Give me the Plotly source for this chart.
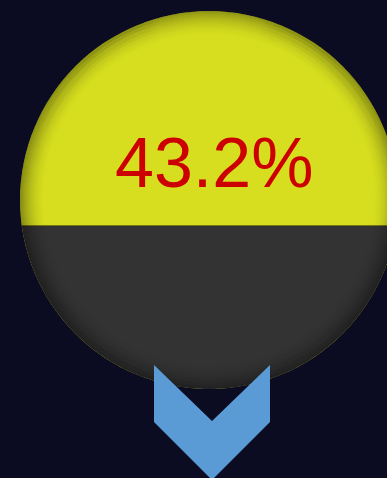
import numpy as np
import plotly.graph_objects as go

# Canvas size in pixels
W, H = 387, 478

# Gauge value (percent) and its label
values = [43.2]
value_max = [100.0]
label = f"{values[0]:.1f}%"

# Palette
BG = "#0b0b22"
TOP_COLOR = "#d6de1f"
FILL_COLOR = "#333333"
TEXT_COLOR = "#cc0000"
ARROW_COLOR = "#5b9bd5"

# Gauge disc geometry (pixel space, y grows downward)
cx, cy, r = 209.0, 200.0, 189.0

# Level of the fill line, driven by the value
frac = values[0] / value_max[0]
level_y = cy + r - frac * 2 * r

shapes = []

# Full disc in the top colour
shapes.append(dict(type="circle", xref="x", yref="y",
                   x0=cx - r, x1=cx + r, y0=cy - r, y1=cy + r,
                   fillcolor=TOP_COLOR, line=dict(width=0), layer="above"))

# Lower segment (the fill) as a polygon below the level line
d = level_y - cy
t0 = np.arcsin(np.clip(d / r, -1, 1))
theta = np.linspace(t0, np.pi - t0, 240)
px = cx + r * np.cos(theta)
py = cy + r * np.sin(theta)
seg_path = "M " + " L ".join(f"{x:.2f},{y:.2f}" for x, y in zip(px, py)) + " Z"
shapes.append(dict(type="path", xref="x", yref="y", path=seg_path,
                   fillcolor=FILL_COLOR, line=dict(width=0), layer="above"))

# Thin dark seam along the level line
hw = np.sqrt(max(r * r - d * d, 0))
shapes.append(dict(type="line", xref="x", yref="y",
                   x0=cx - hw, x1=cx + hw, y0=level_y, y1=level_y,
                   line=dict(color="rgba(60,60,0,0.5)", width=1.2), layer="above"))

# Soft inner shading toward the rim of the disc
n_rings, step, a_max = 26, 1.0, 0.34
for i in range(n_rings):
    rad = r - (i + 0.5) * step
    alpha = a_max * (1 - i / n_rings) ** 2.0
    shapes.append(dict(type="circle", xref="x", yref="y",
                       x0=cx - rad, x1=cx + rad, y0=cy - rad, y1=cy + rad,
                       fillcolor="rgba(0,0,0,0)",
                       line=dict(color=f"rgba(0,0,0,{alpha:.3f})", width=step + 0.15),
                       layer="above"))

# Downward chevron under the disc
ch_cx, ch_top, ch_half, ch_side = 212.0, 365.0, 58.0, 57.0
ch_pts = [
    (ch_cx - ch_half, ch_top),
    (ch_cx, ch_top + ch_half - 2),
    (ch_cx + ch_half, ch_top),
    (ch_cx + ch_half, ch_top + ch_side),
    (ch_cx, ch_top + ch_side + ch_half),
    (ch_cx - ch_half, ch_top + ch_side),
]
ch_path = "M " + " L ".join(f"{x:.2f},{y:.2f}" for x, y in ch_pts) + " Z"
shapes.append(dict(type="path", xref="x", yref="y", path=ch_path,
                   fillcolor=ARROW_COLOR, line=dict(width=0), layer="above"))

fig = go.Figure()
fig.update_layout(
    width=W, height=H,
    margin=dict(l=0, r=0, t=0, b=0),
    paper_bgcolor=BG, plot_bgcolor=BG,
    xaxis=dict(range=[0, W], visible=False, fixedrange=True),
    yaxis=dict(range=[H, 0], visible=False, fixedrange=True),
    shapes=shapes,
    showlegend=False,
    annotations=[dict(
        x=214, y=163, xref="x", yref="y",
        text=label, showarrow=False,
        xanchor="center", yanchor="middle",
        font=dict(family="Liberation Sans, Arial, sans-serif", size=70, color=TEXT_COLOR),
    )],
)

fig.write_html("out.html", config={"displayModeBar": False})
